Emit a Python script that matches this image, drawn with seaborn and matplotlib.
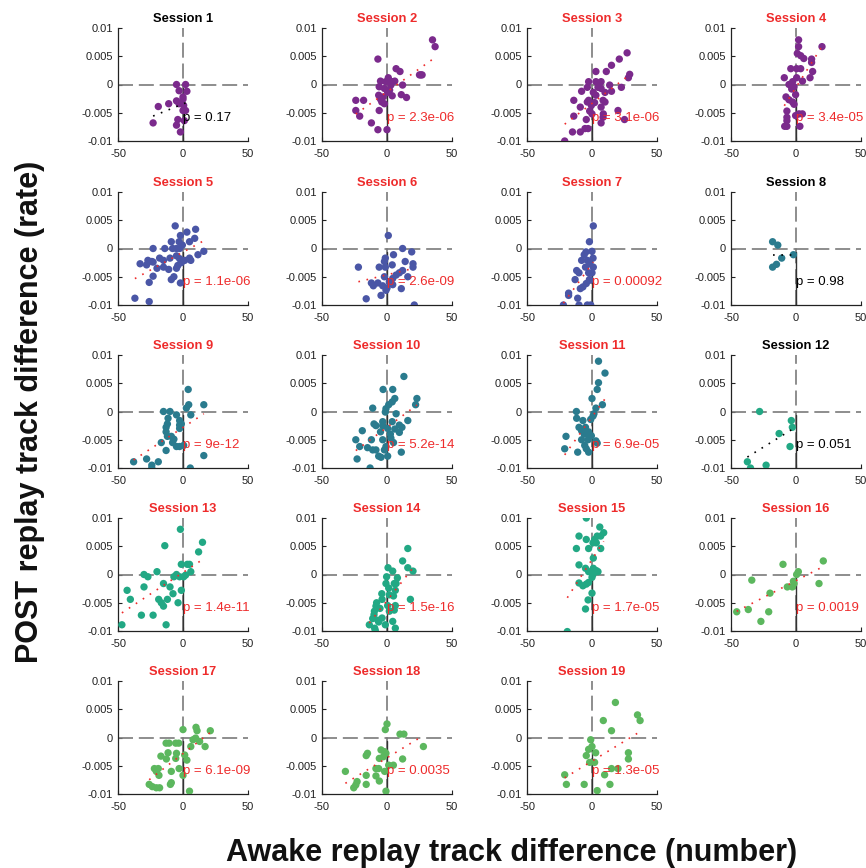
import numpy as np
import matplotlib
matplotlib.use("Agg")
import matplotlib.pyplot as plt
import seaborn as sns

sns.set_style("ticks")
plt.rcParams['font.family'] = ['Liberation Sans', 'DejaVu Sans']

# ---------------- data (x: awake replay diff, y: POST replay diff) ----------------
s1_x = [-5, 2, -3, 3, 0, 0, -5, -3, -11, -19, 0.5, 0, 2, -4, -5, -23, -2, 1]
s1_y = [0, 0, -0.0011, -0.0012, -0.0022, -0.0026, -0.0029, -0.0034, -0.0034, -0.0039, -0.0037, -0.0046, -0.0046, -0.0062, -0.0072, -0.0068, -0.0084, -0.0064]

s2_x = [35, 37, -7, 7, 10, 25, 27, 26, 1, -5, -1, 4, 6, 3, 12, -6, -2, 2, -6.4, -3, 4, 11, 15, -4, -2, -24, -18, -24, -21, -6, -12, -7, 0, -5, 0.5]
s2_y = [0.0079, 0.0067, 0.0045, 0.0028, 0.0023, 0.0017, 0.0017, 0.0017, 0.0012, 0.0006, 0.0005, 0.0005, 0.0006, -0.0001, -0.0001, -0.0004, -0.0007, -0.001, -0.0019, -0.0022, -0.002, -0.0018, -0.0023, -0.0031, -0.0034, -0.0028, -0.0028, -0.0046, -0.0056, -0.0046, -0.0068, -0.008, -0.008, -0.0026, -0.0014]

s3_x = [27, 21, 15, 3, 11, 29, 28, -2.6, 3, 7, 13.6, 22.6, -3.6, 4.6, 7, -8, 1, 3, 10, 15, -14, -2.6, -3.6, 2, 8.5, 10, -9, -0.5, 7, 20, -1.8, 0, 8.7, 8.5, -14, -4.4, 7, 25, -5.4, -3, -9, -15, -21]
s3_y = [0.0056, 0.0045, 0.0034, 0.0023, 0.0023, 0.0018, 0.0012, 0.0005, 0.0005, 0.0005, -0.0001, -0.0005, -0.0005, -0.0005, -0.0007, -0.0012, -0.0014, -0.0019, -0.0014, -0.0012, -0.0028, -0.0028, -0.0031, -0.0032, -0.0028, -0.0031, -0.004, -0.0037, -0.004, -0.0046, -0.0047, -0.0052, -0.0052, -0.0058, -0.0056, -0.0062, -0.0068, -0.0062, -0.0078, -0.0078, -0.0084, -0.0084, -0.01]

s4_x = [2, 2, 1, 3.6, 6, 12, 12, 20, -4, 0.5, 3.6, 12.8, -9, 0.5, 10.8, 5, -2.6, -5.4, -1.5, -3.3, -0.3, -7.7, -5.4, -2.6, -1.5, -7, -7, -7, -7, -8.7, -0.3, 2.3, 4.9, 3]
s4_y = [0.0079, 0.0067, 0.0055, 0.0051, 0.0046, 0.0045, 0.0039, 0.0067, 0.0028, 0.0028, 0.0028, 0.0023, 0.0012, 0.0012, 0.0012, 0.0006, 0.0005, 0, -0.0004, -0.0008, -0.0018, -0.0022, -0.0027, -0.0031, -0.0035, -0.0047, -0.0058, -0.0064, -0.0074, -0.0074, -0.0055, -0.0052, -0.0052, -0.0074]

s5_x = [-6, 9.7, 3, -2, 9, -9, -3, 5, -0.5, -23, -14, -8, -5, -2.6, 16, 11.5, 5, 6, -27, -24, -33, -28, -23, -18, -15, -10, -5, -2.6, -4, -1.3, -20, -15, -11, -23, -9, -7, -26, -2, -37, -26, -5, 1.3]
s5_y = [0.004, 0.0034, 0.0029, 0.0023, 0.0018, 0.0012, 0.0012, 0.0012, 0.0006, 0, 0, 0, 0, 0, -0.0005, -0.0011, -0.0017, -0.0021, -0.0021, -0.0023, -0.0027, -0.0029, -0.0024, -0.0017, -0.0021, -0.0017, -0.0013, -0.0018, -0.003, -0.0025, -0.0035, -0.0033, -0.0037, -0.0049, -0.0055, -0.005, -0.006, -0.0061, -0.0088, -0.0094, -0.0035, -0.0021]

s6_x = [1, 12, 19, 5, -1.3, -2, 14, 20, 4, -22, -6, -1.3, 20, 12, 9.5, 7, -2, 16, 4.4, 1.8, -12, -7, -10.5, -3.3, 4.4, 11, -0.8, -16, -4.6, 21, 0]
s6_y = [0.0023, 0, -0.0006, -0.0011, -0.0017, -0.0023, -0.0023, -0.0027, -0.0029, -0.0033, -0.0033, -0.0033, -0.0033, -0.0039, -0.0043, -0.0047, -0.005, -0.005, -0.0053, -0.0059, -0.0061, -0.0061, -0.0066, -0.0066, -0.0064, -0.0071, -0.0074, -0.0089, -0.0083, -0.01, -0.007]

s7_x = [1, -2, 0, -4.6, -6, -8, -3.6, -1.8, -5, 1, -11.8, -10, -2.6, 0, -13, -1.5, -4.4, -7, -9, -18, -18, -11, -22, -10, -3.6, -1, -2, 0.8]
s7_y = [0.004, 0.0012, -0.0005, -0.0006, -0.0011, -0.0021, -0.0021, -0.0027, -0.0033, -0.0033, -0.0039, -0.0043, -0.0043, -0.0043, -0.0055, -0.0056, -0.0062, -0.0068, -0.0071, -0.0079, -0.0083, -0.0088, -0.01, -0.01, -0.01, -0.01, -0.0055, -0.0017]

s8_x = [-18, -14, -2, -11, -15, -18]
s8_y = [0.0012, 0.0006, -0.0011, -0.0017, -0.0028, -0.0033]

s9_x = [4, 16, 4.4, 2.6, -15, -10, -5, 6, -11.5, -2.6, -1.3, -2.6, -12, -13, -13, -2.6, -12, -9, -7, -16.7, -5, -2.6, 0.5, -13, 16, -28, -38, -19, -24, -24, 5.6, -8]
s9_y = [0.0039, 0.0012, 0.0012, 0.0006, 0, 0, -0.0006, -0.0006, -0.0012, -0.0016, -0.0022, -0.0024, -0.0022, -0.0028, -0.0036, -0.003, -0.0044, -0.0044, -0.0049, -0.0055, -0.0062, -0.0062, -0.006, -0.0069, -0.0078, -0.0084, -0.0089, -0.0089, -0.0095, -0.01, -0.01, -0.0055]

s10_x = [13, -3, 4.4, 23, 6, 4, 1.3, 22, -11, -0.8, -1.3, 7, 16, -3.3, 4, -10, -8.5, -3.3, 9.5, 11.5, 0.5, -5, -19, 6, 2.6, 9.5, 3, -3.3, 5, -24, -12, -21, -15, -11, -8.5, -2, -0.8, 11, -4.6, 0.5, -23, -13, -6.4]
s10_y = [0.0062, 0.0039, 0.0039, 0.0023, 0.0023, 0.0017, 0.0012, 0.0012, 0.0006, 0.0005, -0.0001, -0.0004, -0.0016, -0.0018, -0.0018, -0.0022, -0.0025, -0.0025, -0.0024, -0.0028, -0.003, -0.0036, -0.0034, -0.0031, -0.004, -0.0037, -0.0047, -0.005, -0.0055, -0.005, -0.005, -0.0062, -0.0064, -0.0068, -0.0068, -0.0068, -0.0062, -0.0072, -0.0081, -0.0079, -0.0084, -0.01, -0.0079]

s11_x = [5, 10, 5, 4, 0, 8, 3, -12, 1.5, 0.8, -11.8, -1, -7, -10, -5, -8, -2.6, -3.6, -6, -0.5, -8, -3, 3, 4, -20, -5.6, -4.4, -2.6, -21, -11]
s11_y = [0.0089, 0.0068, 0.0051, 0.0039, 0.0023, 0.0012, 0.0006, 0, -0.0004, -0.0008, -0.0012, -0.0014, -0.0016, -0.0028, -0.0028, -0.0034, -0.0036, -0.004, -0.004, -0.0043, -0.005, -0.005, -0.0052, -0.0056, -0.0044, -0.006, -0.0066, -0.0072, -0.0066, -0.0072]

s12_x = [-28, -3.6, -2.8, -13, -4.6, -37.4, -35, -23]
s12_y = [0, -0.0016, -0.0028, -0.0039, -0.0062, -0.0089, -0.01, -0.0095]

s13_x = [-2, -14, 15, 12, -1.3, 3.3, 5, -20, 6, -30, -27, -5, -7, -2.6, 0.5, 2, -15, -10, -30, -43, -7.7, -1.3, -40.5, -18.7, -12, -16.7, -15, -3.8, -23, -32, -47, -13]
s13_y = [0.008, 0.0051, 0.0057, 0.004, 0.0018, 0.0018, 0.0018, 0.0005, 0.0005, 0, -0.0004, 0, -0.0004, -0.0004, -0.0004, -0.0001, -0.0016, -0.0022, -0.0022, -0.0028, -0.0034, -0.0028, -0.0044, -0.0044, -0.0044, -0.005, -0.0056, -0.005, -0.0072, -0.0072, -0.0089, -0.0089]

s14_x = [16, 12, 16, 20, 0.8, 4.4, -0.3, 8, -0.8, 5.6, 7, 1.3, 6.4, -4, 1.8, 5, -3.8, 18, -8, -8.5, 0.5, 6.4, -5.4, 5.6, -9.7, 1.8, -10, -11, -3.8, -6.4, 4.4, -13.6, -1.3, -9.5, -9, 6.4, -7]
s14_y = [0.0046, 0.0024, 0.0012, 0.0006, 0.0012, 0.0006, -0.0004, -0.0006, -0.0016, -0.0016, -0.0016, -0.0024, -0.0028, -0.0034, -0.0036, -0.0038, -0.0044, -0.0044, -0.005, -0.0056, -0.0055, -0.0055, -0.006, -0.0063, -0.0065, -0.0065, -0.0071, -0.0078, -0.0077, -0.0084, -0.0083, -0.0089, -0.0089, -0.0095, -0.0099, -0.0095, -0.0081]

s15_x = [-4.4, 6, 9, 4, -10, -4.4, 2, 6.7, 3.3, 0.8, -12, -2.6, 6.7, 1, -10, -5, -2.6, 1, 4.6, 0.8, 0, -10, -7, -4.4, -2.6, 0, -3, -5, -19, 3.3]
s15_y = [0.01, 0.0084, 0.0074, 0.0068, 0.0068, 0.0062, 0.0062, 0.0068, 0.0056, 0.0056, 0.0046, 0.0046, 0.0046, 0.0029, 0.0017, 0.0011, 0.0005, 0.0011, 0.0005, 0, -0.0005, -0.0015, -0.002, -0.0017, -0.0014, -0.0033, -0.0045, -0.0061, -0.0101, 0.0007]

s16_x = [21, -10, 1.8, 0.5, -34, 17.7, -2, -1.5, -6.7, -2.8, -20, -36.7, -45.6, -21, -27]
s16_y = [0.0024, 0.0018, 0.0005, 0, -0.001, -0.0016, -0.0012, -0.0016, -0.0022, -0.0022, -0.0033, -0.0062, -0.0066, -0.0066, -0.0083]

s17_x = [0, 10, 10.8, 21, 7.7, 9.7, 12.8, 17, 6, -13, -10.7, -5.6, -3.3, -5, 1.3, -17, -11.5, -5.6, 3, -12.8, -22, -19, -20.5, -3, -9, 0, -18.5, -9, -9.7, -26, -23.6, -20.5, -18, 5]
s17_y = [0.0014, 0.0018, 0.0012, 0.0012, -0.0004, -0.0001, -0.0007, -0.0016, -0.0016, -0.001, -0.001, -0.001, -0.001, -0.0028, -0.0031, -0.0033, -0.0027, -0.0037, -0.004, -0.0038, -0.0055, -0.0055, -0.006, -0.0055, -0.006, -0.0067, -0.0067, -0.008, -0.0083, -0.0083, -0.0087, -0.0089, -0.0089, -0.0095]

s18_x = [0, -1.3, 10, 13, 28, -4.6, -2, -16, -15, -5.9, -2.8, -0.8, 12, 1.3, 4.9, -8.5, -6.4, -1.8, -32, -16, -8.5, -23, -24, -16, -5.9, -0.8, -25.6]
s18_y = [0.0024, 0.0014, 0.0006, 0.0006, -0.0016, -0.0022, -0.0025, -0.0032, -0.0028, -0.0037, -0.0034, -0.0028, -0.0038, -0.0049, -0.0049, -0.0055, -0.0055, -0.006, -0.006, -0.0067, -0.0068, -0.0078, -0.0084, -0.0083, -0.0077, -0.0095, -0.0089]

s19_x = [18, 35, 37, 8.7, 15, -1, 0, -2.6, 2.8, 28, -4.4, 28, -1.8, 2, 15, 20, 9.7, -21, -19.7, -6, 13.8, 4]
s19_y = [0.0062, 0.004, 0.003, 0.003, 0.0012, -0.0004, -0.0016, -0.0021, -0.0027, -0.0027, -0.0032, -0.0038, -0.0044, -0.0044, -0.0055, -0.0055, -0.0066, -0.0066, -0.0083, -0.0083, -0.0083, -0.0094]

p_labels = ["0.17", "2.3e-06", "3.1e-06", "3.4e-05", "1.1e-06", "2.6e-09", "0.00092", "0.98",
            "9e-12", "5.2e-14", "6.9e-05", "0.051", "1.4e-11", "1.5e-16", "1.7e-05", "0.0019",
            "6.1e-09", "0.0035", "1.3e-05"]

session_colors = ["#7B2A8C"] * 4 + ["#4A56A6"] * 3 + ["#2A7B8E"] * 4 + ["#22A884"] * 4 + ["#5CB75E"] * 4

xs = [s1_x, s2_x, s3_x, s4_x, s5_x, s6_x, s7_x, s8_x, s9_x, s10_x,
      s11_x, s12_x, s13_x, s14_x, s15_x, s16_x, s17_x, s18_x, s19_x]
ys = [s1_y, s2_y, s3_y, s4_y, s5_y, s6_y, s7_y, s8_y, s9_y, s10_y,
      s11_y, s12_y, s13_y, s14_y, s15_y, s16_y, s17_y, s18_y, s19_y]

RED = "#EE2B2B"

W, H = 866, 868
fig = plt.figure(figsize=(W / 100, H / 100), dpi=100)

col_left = [118, 322, 527, 731]
row_top = [28, 192, 355, 518, 681]
ax_w, ax_h = 130, 113

for i in range(19):
    r, c = divmod(i, 4)
    l = col_left[c] / W
    b = 1 - (row_top[r] + ax_h) / H
    ax = fig.add_axes([l, b, ax_w / W, ax_h / H])
    pval = float(p_labels[i])
    sig = pval < 0.05
    tcol = RED if sig else "black"
    x = np.array(xs[i], dtype=float)
    y = np.array(ys[i], dtype=float)

    ax.set_xlim(-50, 50)
    ax.set_ylim(-0.01, 0.01)
    # reference cross-hair
    ax.axhline(0, color="#7a7a7a", lw=1.2, linestyle=(0, (9, 3.5)), zorder=1)
    ax.axvline(0, color="#7a7a7a", lw=1.2, linestyle=(0, (9, 3.5)), zorder=1)
    ax.axvline(0, ymin=0, ymax=0.47, color="#333333", lw=1.0, zorder=1)

    sns.scatterplot(x=x, y=y, ax=ax, color=session_colors[i], s=28,
                    edgecolor="none", linewidth=0, zorder=3)
    sns.regplot(x=x, y=y, ax=ax, scatter=False, ci=None, truncate=True,
                line_kws=dict(color=tcol, lw=1.2, linestyle=(0, (1, 4)), zorder=4))
    ax.set_xlim(-50, 50)
    ax.set_ylim(-0.01, 0.01)

    ax.text(0, -0.006, "p = " + p_labels[i], color=tcol, fontsize=9.5,
            ha="left", va="center", zorder=5, clip_on=False)
    ax.set_title("Session %d" % (i + 1), color=tcol, fontsize=9.3,
                 fontweight="bold", pad=4)

    ax.set_xticks([-50, 0, 50])
    ax.set_xticklabels(["-50", "0", "50"])
    ax.set_yticks([-0.01, -0.005, 0, 0.005, 0.01])
    ax.set_yticklabels(["-0.01", "-0.005", "0", "0.005", "0.01"])
    ax.tick_params(direction="in", length=3, width=0.8, labelsize=8,
                   colors="#222222")
    ax.tick_params(axis="x", pad=5.5)
    ax.tick_params(axis="y", pad=3.5)
    ax.set_xlabel("")
    ax.set_ylabel("")
    for s in ["top", "right"]:
        ax.spines[s].set_visible(False)
    for s in ["left", "bottom"]:
        ax.spines[s].set_linewidth(0.9)
        ax.spines[s].set_color("#222222")

fig.text(30 / W, 1 - 412 / H, "POST replay track difference (rate)", rotation=90,
         ha="center", va="center", fontsize=22, fontweight="bold", color="#111111")
fig.text(512 / W, 1 - 853 / H, "Awake replay track difference (number)",
         ha="center", va="center", fontsize=22, fontweight="bold", color="#111111")

fig.savefig("out.png", dpi=100)
